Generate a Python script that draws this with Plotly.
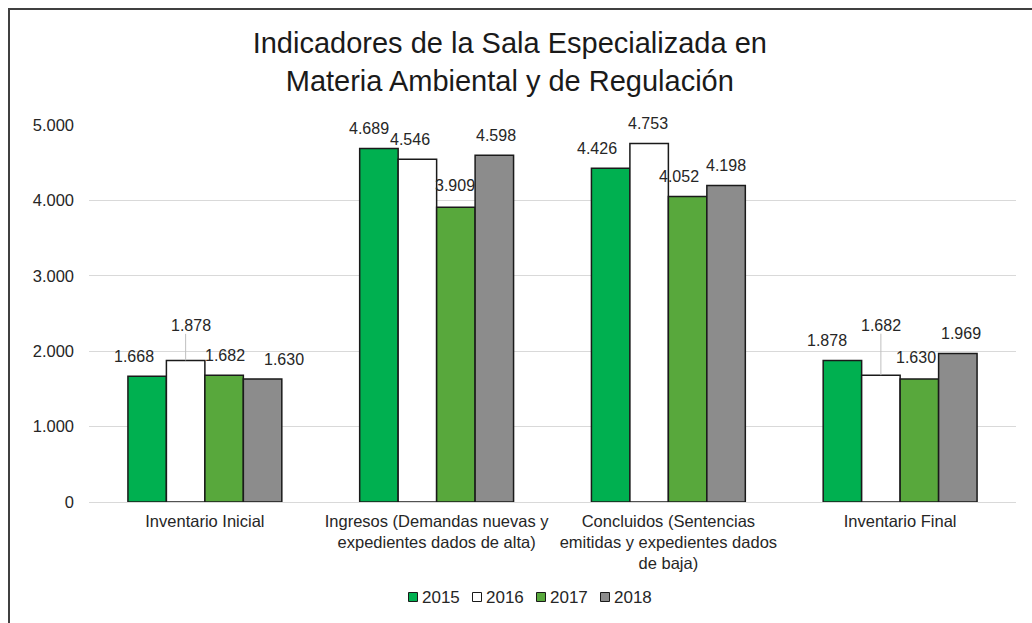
import plotly.graph_objects as go

categories = ["Inventario Inicial",
              "Ingresos (Demandas nuevas y<br>expedientes dados de alta)",
              "Concluidos (Sentencias<br>emitidas y expedientes dados<br>de baja)",
              "Inventario Final"]
years = ["2015", "2016", "2017", "2018"]
v2015 = [1668, 4689, 4426, 1878]
v2016 = [1878, 4546, 4753, 1682]
v2017 = [1682, 3909, 4052, 1630]
v2018 = [1630, 4598, 4198, 1969]
series = [v2015, v2016, v2017, v2018]

colors = ["#00B050", "#FFFFFF", "#58A83C", "#8C8C8C"]

# label offsets (px) for each [series][category]
label_dx = [[-13, -10, -14, -15],
            [5, -7, -1, 0],
            [1, -1, -9, -3],
            [21, 2, 0, 3]]
label_dy = [[0, 0, 0, 0],
            [15, 0, 0, 30],
            [0, 2, 0, 2],
            [0, 0, 0, 0]]
leader = [[False] * 4, [True, False, False, True], [False] * 4, [False] * 4]

W, H = 1032, 623
ML, MR, MT, MB = 89, 16, 125, 121
PW, PH = W - ML - MR, H - MT - MB


def px_x(p):
    return (p - ML) / PW


def px_y(p):
    return (H - MB - p) / PH


fig = go.Figure()
for i, (y, vals) in enumerate(zip(years, series)):
    fig.add_trace(go.Bar(
        name=y, x=list(range(len(categories))), y=vals, showlegend=False,
        marker=dict(color=colors[i], line=dict(color="#1a1a1a", width=1.5)),
    ))

bargap = 0.336
w = (1 - bargap) / 4


def fmt(v):
    return f"{v:,}".replace(",", ".")


ann = []
shapes = []
for i, vals in enumerate(series):
    for j, v in enumerate(vals):
        xc = j + (i - 1.5) * w
        base = 20 + label_dy[i][j]
        if leader[i][j]:
            ann.append(dict(x=xc, y=v, xref="x", yref="y", text="", showarrow=True,
                            arrowhead=0, arrowwidth=1, arrowcolor="#bfbfbf",
                            ax=0, ay=-(base - 7), axref="pixel", ayref="pixel"))
        ann.append(dict(x=xc, y=v, xref="x", yref="y", text=fmt(v), showarrow=False,
                        xshift=label_dx[i][j], yshift=base, yanchor="middle",
                        font=dict(size=16, color="#262626")))

# custom compact legend
leg_x0, leg_step, leg_y = 413, 64, 597
for i, y in enumerate(years):
    cx = leg_x0 + i * leg_step
    shapes.append(dict(type="rect", xref="paper", yref="paper",
                       xsizemode="pixel", ysizemode="pixel",
                       xanchor=px_x(cx), yanchor=px_y(leg_y),
                       x0=-4.5, x1=4.5, y0=-4.5, y1=4.5,
                       fillcolor=colors[i], line=dict(color="#1a1a1a", width=1)))
    ann.append(dict(x=px_x(cx + 7), y=px_y(leg_y), xref="paper", yref="paper",
                    text=y, showarrow=False, xanchor="left", yanchor="middle",
                    font=dict(size=17, color="#262626")))

# outer frame
shapes.append(dict(type="rect", xref="paper", yref="paper",
                   x0=px_x(9), x1=px_x(W + 40), y0=px_y(H + 40), y1=px_y(9),
                   line=dict(color="#404040", width=2), layer="below"))

fig.update_layout(
    width=W, height=H,
    margin=dict(l=ML, r=MR, t=MT, b=MB),
    paper_bgcolor="white", plot_bgcolor="white",
    separators=",.",
    font=dict(family="Liberation Sans, Arial, sans-serif", color="#262626", size=17),
    title=dict(text="Indicadores de la Sala Especializada en<br>Materia Ambiental y de Regulación",
               x=0.494, xanchor="center", y=1 - 53 / 623, yanchor="middle",
               yref="container", font=dict(size=29, color="#1a1a1a")),
    barmode="group", bargap=bargap, bargroupgap=0,
    showlegend=False,
    annotations=ann,
    shapes=shapes,
)
fig.update_xaxes(tickmode="array", tickvals=list(range(len(categories))), ticktext=categories,
                 range=[-0.5, 3.5], showline=False, ticks="", tickfont=dict(size=16.5),
                 automargin=False, ticklabelstandoff=7)
fig.update_yaxes(range=[0, 5000], dtick=1000, tickformat=",.0f", gridcolor="#d9d9d9",
                 gridwidth=1, zeroline=True, zerolinecolor="#d9d9d9", zerolinewidth=1,
                 ticklabelstandoff=14, tickfont=dict(size=16.5), automargin=False)

fig.write_html("out.html", config={"displayModeBar": False},
               post_script="document.body.style.margin='0';")
